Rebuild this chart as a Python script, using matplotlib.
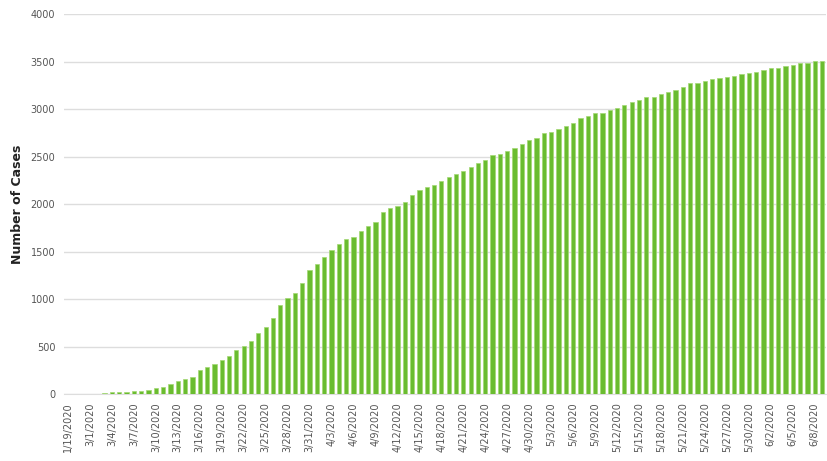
import matplotlib
matplotlib.use("Agg")
import matplotlib.pyplot as plt
import pandas as pd

# Categories: first reported case, then daily from 2/28/2020 to 6/9/2020
first_date = ["1/19/2020"]
daily_dates = [f"{d.month}/{d.day}/{d.year}" for d in pd.date_range("2020-02-28", "2020-06-09")]
categories = first_date + daily_dates

cases = [
    1, 1, 1, 2, 5, 7, 18, 18, 20, 27,
    37, 45, 66, 77, 105, 137, 161, 182, 253, 281,
    316, 358, 405, 465, 510, 560, 638, 710, 800, 937,
    1007, 1067, 1165, 1305, 1365, 1445, 1515, 1575, 1628, 1650,
    1720, 1768, 1814, 1920, 1955, 1975, 2025, 2095, 2147, 2182,
    2200, 2245, 2280, 2312, 2347, 2393, 2428, 2463, 2516, 2523,
    2558, 2586, 2628, 2674, 2698, 2744, 2761, 2786, 2821, 2849,
    2902, 2926, 2954, 2960, 2985, 3007, 3042, 3077, 3095, 3123,
    3130, 3154, 3175, 3200, 3235, 3270, 3277, 3298, 3312, 3323,
    3333, 3347, 3365, 3375, 3386, 3410, 3428, 3428, 3452, 3463,
    3480, 3480, 3508, 3508,
]

y_ticks = [0, 500, 1000, 1500, 2000, 2500, 3000, 3500, 4000]
y_label = "Number of Cases"

fig = plt.figure(figsize=(8.28, 4.61), dpi=100)
ax = fig.add_axes([0.0768, 0.1453, 0.9213, 0.8243])

x = list(range(len(categories)))
ax.bar(x, cases, width=0.58, color="#6ABC30", edgecolor="#A3D873", linewidth=0.5, zorder=3)

ax.set_ylim(0, 4000)
ax.set_xlim(-0.6, 103.6)
ax.set_yticks(y_ticks)
ax.set_yticklabels([str(v) for v in y_ticks], fontsize=7, color="#555555")
ax.yaxis.grid(True, color="#DDDDDD", linewidth=1.0, zorder=0)
ax.set_axisbelow(True)

tick_idx = x[::3]
ax.set_xticks(tick_idx)
ax.set_xticklabels([categories[i] for i in tick_idx], rotation=90, fontsize=7, color="#555555")
ax.tick_params(axis="both", length=0, pad=6)

for s in ["top", "right", "left"]:
    ax.spines[s].set_visible(False)
ax.spines["bottom"].set_color("#DDDDDD")

ax.set_ylabel(y_label, fontsize=9, fontweight="bold", color="#222222", labelpad=5)

fig.savefig("out.png", dpi=100)
